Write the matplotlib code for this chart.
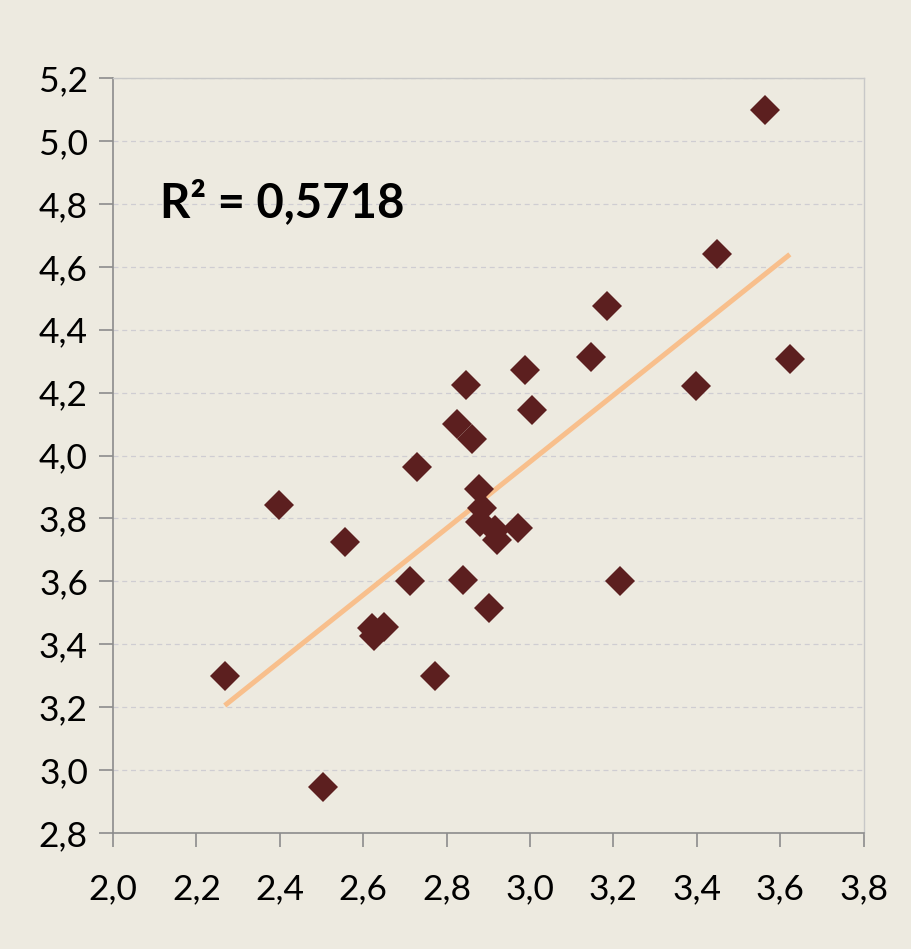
import numpy as np
import matplotlib.pyplot as plt
from matplotlib.ticker import FuncFormatter

# data
x_vals = [2.268, 2.398, 2.503, 2.556, 2.621, 2.626, 2.650, 2.713, 2.730, 2.772,
          2.825, 2.839, 2.846, 2.860, 2.877, 2.884, 2.880, 2.916, 2.920, 2.971,
          2.901, 2.988, 3.004, 3.146, 3.184, 3.215, 3.397, 3.448, 3.563, 3.623]
y_vals = [3.300, 3.843, 2.946, 3.725, 3.452, 3.426, 3.455, 3.600, 3.965, 3.300,
          4.100, 3.604, 4.224, 4.052, 3.895, 3.833, 3.789, 3.763, 3.731, 3.769,
          3.515, 4.272, 4.145, 4.313, 4.475, 3.601, 4.221, 4.640, 5.098, 4.307]
r2_label = "R² = 0,5718"

bg = "#EDEAE0"
plt.rcParams['font.family'] = ['Lato', 'DejaVu Sans']

fig = plt.figure(figsize=(9.12, 9.49), dpi=100, facecolor=bg)
ax = fig.add_axes([0.1239, 0.1222, 0.8231, 0.7956])
ax.set_facecolor(bg)

# linear trend line fitted to the points
x = np.array(x_vals)
y = np.array(y_vals)
slope, intercept = np.polyfit(x, y, 1)
xl = np.array([x.min(), x.max()])
ax.plot(xl, slope * xl + intercept, color="#F8BF8C", lw=3.6, zorder=2,
        solid_capstyle='butt')

ax.plot(x, y, linestyle='none', marker='D', markersize=15,
        color="#5C1F1F", markeredgewidth=0, zorder=3)

ax.set_xlim(2.0, 3.8)
ax.set_ylim(2.8, 5.2)
ax.set_xticks(np.arange(2.0, 3.81, 0.2))
ax.set_yticks(np.arange(2.8, 5.21, 0.2))
fmt = FuncFormatter(lambda v, p: f"{v:.1f}".replace(".", ","))
ax.xaxis.set_major_formatter(fmt)
ax.yaxis.set_major_formatter(fmt)

ax.yaxis.grid(True, linestyle=(0, (4, 3)), color="#CFCDD2", lw=0.9)
ax.set_axisbelow(True)

for side in ['left', 'bottom']:
    ax.spines[side].set_color("#8C8C8C")
    ax.spines[side].set_linewidth(1.2)
for side in ['top', 'right']:
    ax.spines[side].set_color("#C8C8C8")
    ax.spines[side].set_linewidth(1.0)

ax.tick_params(axis='both', direction='out', length=10, width=1.2,
               color="#8C8C8C", labelsize=25.5, labelcolor="black")
ax.tick_params(axis='y', pad=8)
ax.tick_params(axis='x', pad=19)

ax.text(0.063, 0.835, r2_label, transform=ax.transAxes, fontsize=34,
        fontweight='bold', ha='left', va='center', color="black")

fig.savefig("out.png", dpi=100, facecolor=bg)
